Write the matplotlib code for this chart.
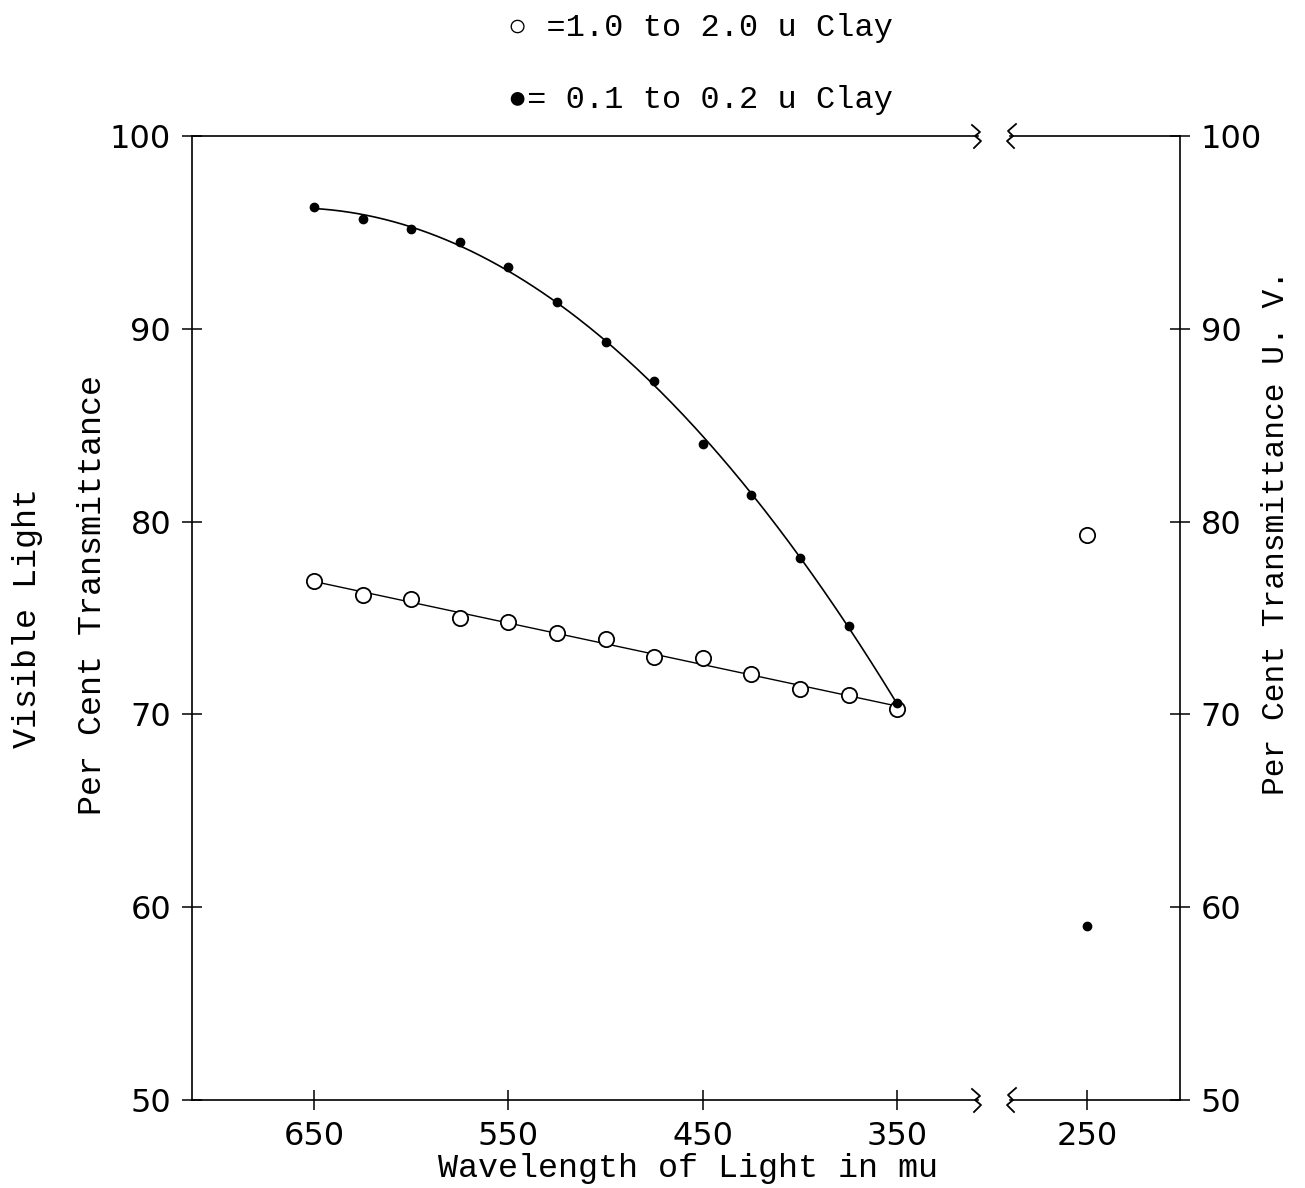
"""Per cent transmittance of clay suspensions vs wavelength (broken x axis)."""
import numpy as np
import matplotlib

matplotlib.use("Agg")
from matplotlib import pyplot as plt

# wavelength (mu) and transmittance (%)
wl_vis = [650, 625, 600, 575, 550, 525, 500, 475, 450, 425, 400, 375, 350]
fine_clay = [96.3, 95.7, 95.2, 94.5, 93.2, 91.4, 89.3, 87.3, 84.0, 81.4, 78.1, 74.6, 70.6]
coarse_clay = [76.9, 76.2, 76.0, 75.0, 74.8, 74.2, 73.9, 73.0, 72.9, 72.1, 71.3, 71.0, 70.3]

wl_uv = [250]
fine_clay_uv = [59.0]
coarse_clay_uv = [79.3]

x_ticks_vis = [650, 550, 450, 350]
x_ticks_uv = [250]
y_ticks = [50, 60, 70, 80, 90, 100]

TYPE = ["Liberation Mono", "DejaVu Sans Mono"]
HAND = "DejaVu Sans"

W, H = 1305, 1188
fig = plt.figure(figsize=(W / 100, H / 100), dpi=100)

bottom = 1 - 1100 / H
height = (1100 - 136) / H
ax_l = fig.add_axes([192 / W, bottom, (978 - 192) / W, height])
ax_r = fig.add_axes([1010 / W, bottom, (1180 - 1010) / W, height])

# visible part
ax_l.set_xlim(712.7, 308.5)
ax_l.set_ylim(50, 100)
ax_r.set_xlim(289.5, 202.2)
ax_r.set_ylim(50, 100)

# trend lines drawn through the readings
xs = np.linspace(650, 350, 200)
curve = np.polyval(np.polyfit(wl_vis, fine_clay, 2), xs)
ax_l.plot(xs, curve, color="black", lw=1.2)
straight = np.polyval(np.polyfit(wl_vis, coarse_clay, 1), xs)
ax_l.plot(xs, straight, color="black", lw=1.0)

for ax, wl, fine, coarse in [
    (ax_l, wl_vis, fine_clay, coarse_clay),
    (ax_r, wl_uv, fine_clay_uv, coarse_clay_uv),
]:
    ax.plot(wl, coarse, linestyle="none", marker="o", markersize=11,
            markerfacecolor="white", markeredgecolor="black", markeredgewidth=1.3,
            zorder=3)
    ax.plot(wl, fine, linestyle="none", marker="o", markersize=6,
            color="black", zorder=4)

# spines and ticks
for ax in (ax_l, ax_r):
    for s in ax.spines.values():
        s.set_linewidth(1.2)
    ax.tick_params(axis="both", direction="inout", length=14, width=1.1,
                   labelsize=23, pad=8)

ax_l.spines["right"].set_visible(False)
ax_r.spines["left"].set_visible(False)

ax_l.set_xticks(x_ticks_vis)
ax_l.set_xticklabels([str(t) for t in x_ticks_vis], fontfamily=HAND, fontsize=23)
ax_l.set_yticks(y_ticks)
ax_l.set_yticklabels([str(t) for t in y_ticks], fontfamily=HAND, fontsize=23)

ax_r.set_xticks(x_ticks_uv)
ax_r.set_xticklabels([str(t) for t in x_ticks_uv], fontfamily=HAND, fontsize=23)
ax_r.set_yticks(y_ticks)
ax_r.set_yticklabels([str(t) for t in y_ticks], fontfamily=HAND, fontsize=23)
ax_r.yaxis.tick_right()
ax_r.tick_params(axis="y", left=False, right=True)

# break marks on the top and bottom lines
def squiggle(ax, x0, pts, w_px, h_px):
    for y0 in (0.0, 1.0):
        px = [x0 + dx / w_px for dx, _ in pts]
        py = [y0 + dy / h_px for _, dy in pts]
        ax.plot(px, py, color="black", lw=1.3, transform=ax.transAxes,
                clip_on=False)

zig_right = [(-6, 11), (2, 4), (-3, 0), (3, -5), (-4, -12)]
zig_left = [(6, 12), (-2, 5), (3, 0), (-3, -5), (4, -12)]
squiggle(ax_l, 1.0, zig_right, 978 - 192, 964)
squiggle(ax_r, 0.0, zig_left, 1180 - 1010, 964)

# axis titles
fig.text(688 / W, 1 - 1168 / H, "Wavelength of Light in mu", fontfamily=TYPE,
         fontsize=24, ha="center", va="center")
fig.text(28 / W, 1 - 618 / H, "Visible Light", fontfamily=TYPE, fontsize=24,
         rotation=90, ha="center", va="center")
fig.text(93 / W, 1 - 595 / H, "Per Cent Transmittance", fontfamily=TYPE,
         fontsize=24, rotation=90, ha="center", va="center")
fig.text(1276 / W, 1 - 532 / H, "Per Cent Transmittance U. V.", fontfamily=TYPE,
         fontsize=22.5, rotation=90, ha="center", va="center")

# key
fig.text(508 / W, 1 - 28 / H, "○ =1.0 to 2.0 u Clay", fontfamily=TYPE,
         fontsize=23, ha="left", va="center")
fig.text(508 / W, 1 - 100 / H, "●= 0.1 to 0.2 u Clay", fontfamily=TYPE,
         fontsize=23, ha="left", va="center")

fig.savefig("out.png", dpi=100)
